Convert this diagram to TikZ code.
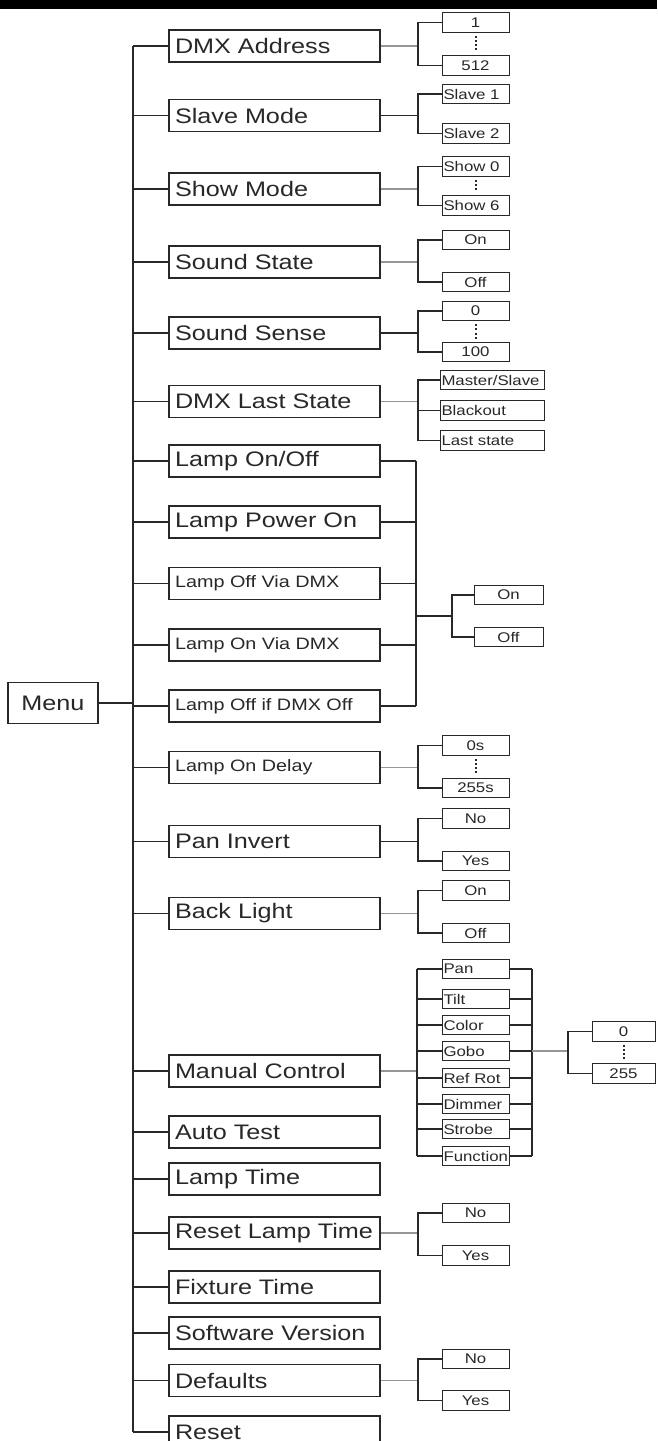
\documentclass[tikz,border=0pt]{standalone}
\usepackage{fontspec}
\setmainfont{Liberation Sans}[FakeStretch=1.2]
\usetikzlibrary{calc}
\definecolor{inkgray}{RGB}{40,40,40}
\definecolor{scangray}{RGB}{150,150,150}

\tikzset{
  mainbox/.style={draw=inkgray, text=inkgray, line width=1.2pt, minimum height=32pt,
    text width=199pt, inner xsep=6pt, align=left, font=\fontsize{21}{24}\selectfont},
  smallmain/.style={mainbox, font=\fontsize{16.5}{19}\selectfont},
  optbox/.style={draw=inkgray, text=inkgray, line width=1pt, minimum width=67pt,
    minimum height=19.5pt, inner sep=1.5pt, font=\fontsize{14}{16}\selectfont},
  optleft/.style={optbox, text width=64pt, align=left},
  link/.style={draw=inkgray, line width=1.2pt},
  faint/.style={draw=scangray, line width=1.6pt},
  dotrange/.style={draw=inkgray, line width=2pt, dash pattern=on 2pt off 2.2pt,
    shorten <=3pt, shorten >=3pt},
}

\begin{document}
\begin{tikzpicture}[x=1pt, y=-1pt]
\useasboundingbox (0,0) rectangle (657,1441);
\clip (0,0) rectangle (657,1441);
\fill[white] (0,0) rectangle (657,1441);
\fill[black] (0,0) rectangle (657,8.5);

% root
\node[draw=inkgray, text=inkgray, line width=1.2pt, minimum width=90pt, minimum height=41pt,
  font=\fontsize{21}{24}\selectfont] (menu) at (53,703) {Menu};

% menu entries
\node[mainbox] (dmxaddr) at (274.5,46) {DMX Address};
\node[mainbox] (slavemode) at (274.5,115.5) {Slave Mode};
\node[mainbox] (showmode) at (274.5,189) {Show Mode};
\node[mainbox] (sndstate) at (274.5,262) {Sound State};
\node[mainbox] (sndsense) at (274.5,333) {Sound Sense};
\node[mainbox] (dmxlast) at (274.5,401.5) {DMX Last State};
\node[mainbox] (lamponoff) at (274.5,461) {Lamp On/Off};
\node[mainbox] (lamppower) at (274.5,522) {Lamp Power On};
\node[smallmain] (lampoffdmx) at (274.5,583.5) {Lamp Off Via DMX};
\node[smallmain] (lampondmx) at (274.5,645) {Lamp On Via DMX};
\node[smallmain] (lampoffif) at (274.5,706) {Lamp Off if DMX Off};
\node[smallmain] (lampdelay) at (274.5,767.5) {Lamp On Delay};
\node[mainbox] (paninv) at (274.5,841.5) {Pan Invert};
\node[mainbox] (backlight) at (274.5,913.5) {Back Light};
\node[mainbox] (manual) at (274.5,1071) {Manual Control};
\node[mainbox] (autotest) at (274.5,1132) {Auto Test};
\node[mainbox] (lamptime) at (274.5,1179) {Lamp Time};
\node[mainbox] (resetlamp) at (274.5,1233) {Reset Lamp Time};
\node[mainbox] (fixture) at (274.5,1287) {Fixture Time};
\node[mainbox] (software) at (274.5,1333) {Software Version};
\node[mainbox] (defaults) at (274.5,1380.5) {Defaults};
\node[mainbox] (reset) at (274.5,1432) {Reset};

% options
\node[optbox] (addr1) at (475.5,22.5) {1};
\node[optbox] (addr512) at (475.5,65.5) {512};
\node[optleft] (slave1) at (475.5,94) {Slave 1};
\node[optleft] (slave2) at (475.5,133.5) {Slave 2};
\node[optleft] (show0) at (475.5,166.5) {Show 0};
\node[optleft] (show6) at (475.5,205.5) {Show 6};
\node[optbox] (sndon) at (475.5,240) {On};
\node[optbox] (sndoff) at (475.5,282) {Off};
\node[optbox] (sens0) at (475.5,311) {0};
\node[optbox] (sens100) at (475.5,352) {100};
\node[optleft, text width=101pt] (lsms) at (492,380) {Master/Slave};
\node[optleft, text width=101pt] (lsbo) at (492,410.5) {Blackout};
\node[optleft, text width=101pt] (lsls) at (492,440.5) {Last state};
\node[optbox, minimum width=69pt] (lampon) at (508.5,595) {On};
\node[optbox, minimum width=69pt] (lampoff) at (508.5,637) {Off};
\node[optbox] (dly0) at (475.5,745.5) {0s};
\node[optbox] (dly255) at (475.5,788) {255s};
\node[optbox] (panno) at (475.5,818.5) {No};
\node[optbox] (panyes) at (475.5,861) {Yes};
\node[optbox] (blon) at (475.5,890.5) {On};
\node[optbox] (bloff) at (475.5,933) {Off};
\node[optleft] (chpan) at (475.5,969) {Pan};
\node[optleft] (chtilt) at (475.5,999) {Tilt};
\node[optleft] (chcolor) at (475.5,1025) {Color};
\node[optleft] (chgobo) at (475.5,1051) {Gobo};
\node[optleft] (chrefrot) at (475.5,1078) {Ref Rot};
\node[optleft] (chdimmer) at (475.5,1104) {Dimmer};
\node[optleft] (chstrobe) at (475.5,1129) {Strobe};
\node[optleft] (chfunction) at (475.5,1156) {Function};
\node[optbox, minimum width=63pt] (val0) at (623.5,1031.5) {0};
\node[optbox, minimum width=63pt] (val255) at (623.5,1073.5) {255};
\node[optbox] (rltno) at (475.5,1213) {No};
\node[optbox] (rltyes) at (475.5,1255.5) {Yes};
\node[optbox] (defno) at (475.5,1359) {No};
\node[optbox] (defyes) at (475.5,1400.5) {Yes};

% spine
\coordinate (spine) at (133,0);
\draw[link] (spine |- dmxaddr.west) -- (spine |- reset.west);
\foreach \m in {dmxaddr,slavemode,showmode,sndstate,sndsense,dmxlast,lamponoff,lamppower,
  lampoffdmx,lampondmx,lampoffif,lampdelay,paninv,backlight,manual,autotest,lamptime,
  resetlamp,fixture,software,defaults,reset}
  \draw[link] (\m.west) -- (spine |- \m.west);
\draw[link] (menu.east) -- (spine |- menu.east);

% two-way forks
\coordinate (fork) at (418,0);
\foreach \m/\a/\b/\s in {dmxaddr/addr1/addr512/faint, slavemode/slave1/slave2/link,
  showmode/show0/show6/faint, sndstate/sndon/sndoff/faint, sndsense/sens0/sens100/link,
  lampdelay/dly0/dly255/faint, paninv/panno/panyes/link, backlight/blon/bloff/faint,
  resetlamp/rltno/rltyes/faint, defaults/defno/defyes/faint} {
  \draw[\s] (\m.east) -- (fork |- \m.east);
  \draw[link] (\a.west) -- (fork |- \a.west) -- (fork |- \b.west) -- (\b.west);
}
\foreach \a/\b in {addr1/addr512, show0/show6, sens0/sens100, dly0/dly255, val0/val255}
  \draw[dotrange] (\a.south) -- (\b.north);

% dmx last state
\draw[faint] (dmxlast.east) -- (fork |- dmxlast.east);
\draw[link] (lsms.west) -- (fork |- lsms.west) -- (fork |- lsls.west) -- (lsls.west);
\draw[link] (lsbo.west) -- (fork |- lsbo.west);

% lamp settings share on/off
\coordinate (lampbus) at (416,0);
\coordinate (lampfork) at (452,0);
\foreach \m in {lamponoff,lamppower,lampoffdmx,lampondmx,lampoffif}
  \draw[link] (\m.east) -- (lampbus |- \m.east);
\draw[link] (lampbus |- lamponoff.east) -- (lampbus |- lampoffif.east);
\coordinate (lampmid) at ($(lampon.west)!0.5!(lampoff.west)$);
\draw[link] (lampbus |- lampmid) -- (lampfork |- lampmid);
\draw[link] (lampon.west) -- (lampfork |- lampon.west) -- (lampfork |- lampoff.west) -- (lampoff.west);

% manual control channels
\coordinate (chbus) at (417,0);
\coordinate (chjoin) at (532,0);
\coordinate (valfork) at (568,0);
\draw[faint] (manual.east) -- (chbus |- manual.east);
\draw[link] (chbus |- chpan.west) -- (chbus |- chfunction.west);
\draw[link] (chjoin |- chpan.east) -- (chjoin |- chfunction.east);
\foreach \c in {chpan,chtilt,chcolor,chgobo,chrefrot,chdimmer,chstrobe,chfunction} {
  \draw[link] (\c.west) -- (chbus |- \c.west);
  \draw[link] (\c.east) -- (chjoin |- \c.east);
}
\draw[faint] (chjoin |- chgobo.east) -- (valfork |- chgobo.east);
\draw[link] (val0.west) -- (valfork |- val0.west) -- (valfork |- val255.west) -- (val255.west);
\end{tikzpicture}
\end{document}
